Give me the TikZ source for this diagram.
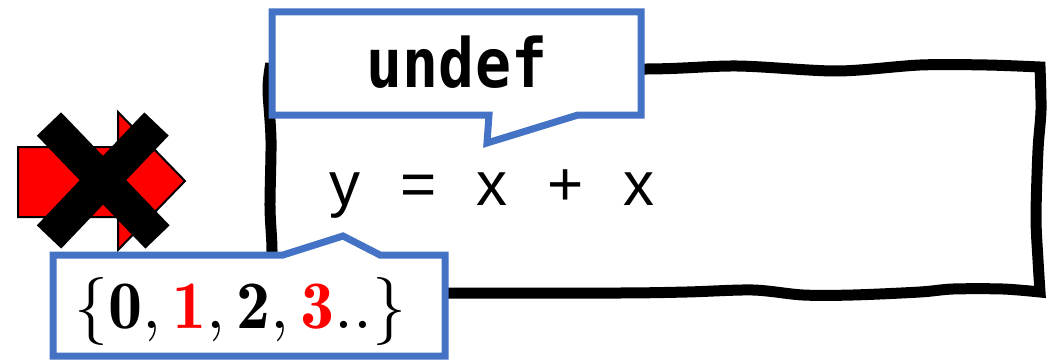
\documentclass[tikz,border=0pt]{standalone}
\usepackage{graphicx}
\usepackage{fontspec}
\newfontfamily\codefont{Liberation Sans}
\newfontfamily\monobold{DejaVu Sans Mono}[BoldFont={DejaVu Sans Mono Bold}]
\definecolor{calloutblue}{HTML}{4472C4}
\tikzset{
  boxline/.style={draw=black, line width=8.25pt, line join=miter},
  callout/.style={draw=calloutblue, line width=5.25pt, fill=white, line join=miter},
  arrowshape/.style={fill=red, draw=black, line width=1.5pt},
  crossbar/.style={draw=black, line width=25.2pt, line cap=butt},
}
\begin{document}
\begin{tikzpicture}[x=0.75pt,y=-0.75pt]
\useasboundingbox (0,0) rectangle (1048,360);

% red arrow, crossed out
\draw[arrowshape] (18,147) -- (118,147) -- (118,112) -- (185,181)
  -- (118,250) -- (118,217) -- (18,217) -- cycle;
\coordinate (xa1) at (49,124);
\coordinate (xa2) at (157.5,237);
\coordinate (xb1) at (156.5,124);
\coordinate (xb2) at (49,237);
\draw[crossbar] (xa1) -- (xa2);
\draw[crossbar] (xb1) -- (xb2);

% hand-drawn frame
\draw[boxline]
  plot[smooth, tension=0.5] coordinates {(270,68) (450,68) (647,69) (737,66) (837,71) (920,65) (987,65) (1040,67)}
  -- plot[smooth, tension=0.5] coordinates {(1040,67) (1041,110) (1038,150) (1036,217) (1038,260) (1040,292)}
  -- plot[smooth, tension=0.5] coordinates {(1040,292) (1003,289) (953,289) (920,292) (853,295) (803,295) (753,290) (687,292) (620,293) (450,293) (270,293)}
  -- plot[smooth, tension=0.5] coordinates {(270,293) (272,250) (270,207) (271,140) (268,90) (270,68)}
  -- cycle;

\node[anchor=base, inner sep=0pt] (expr) at (492,205)
  {\codefont\fontsize{46.5}{50}\selectfont
   \makebox[55pt]{y}\makebox[55pt]{=}\makebox[55pt]{x}\makebox[55pt]{+}\makebox[55pt]{x}};

% callouts
\draw[callout] (272,12) -- (641,12) -- (641,115) -- (578,115) -- (487,143)
  -- (489,115) -- (272,115) -- cycle;
\node[anchor=base, inner sep=0pt] (undef) at (457,87)
  {\scalebox{0.88}[1]{\monobold\bfseries\fontsize{51}{56}\selectfont undef}};

\draw[callout] (53,255) -- (283,255) -- (343,236) -- (380,255) -- (445,255)
  -- (445,356) -- (53,356) -- cycle;
\node[anchor=base, inner sep=0pt] (values) at (240.5,328)
  {\scalebox{5.1}{$\{\mathbf{0}{,}\mkern3mu {\color{red}\mathbf{1}}{,}\mkern3mu \mathbf{2}{,}\mkern3mu {\color{red}\mathbf{3}}\mathbf{..}\}$}};
\end{tikzpicture}
\end{document}
